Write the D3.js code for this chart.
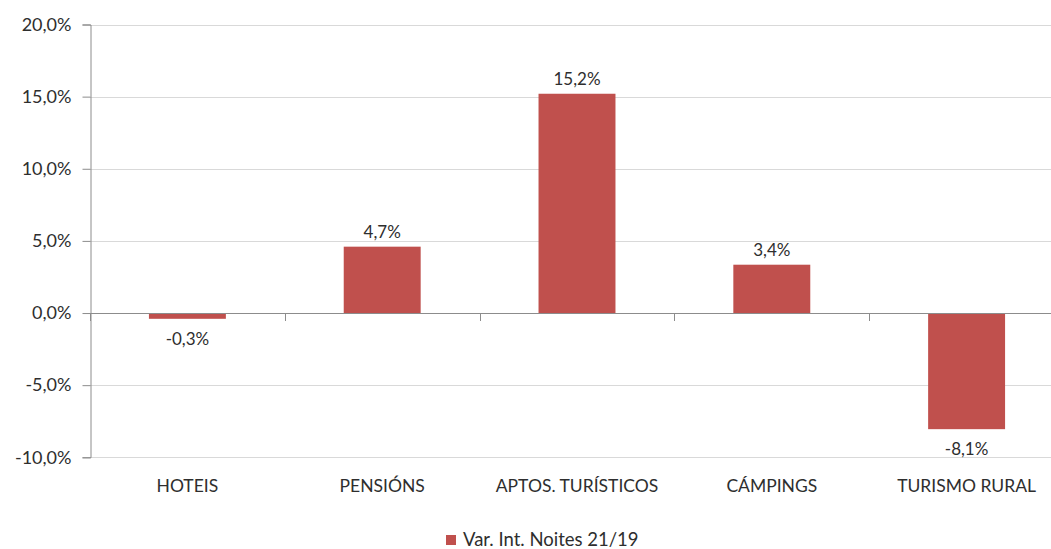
<!DOCTYPE html>
<html>
<head>
<meta charset="utf-8">
<script src="https://cdn.jsdelivr.net/npm/d3@7"></script>
<style>
  body { margin: 0; background: #fff; }
  svg text { font-family: Lato, "Open Sans", sans-serif; fill: #2e2e2e; }
</style>
</head>
<body>
<script>
var categories = ["HOTEIS", "PENSIÓNS", "APTOS. TURÍSTICOS", "CÁMPINGS", "TURISMO RURAL"];
var values = [-0.4, 4.6, 15.2, 3.35, -8.05];
var labels = ["-0,3%", "4,7%", "15,2%", "3,4%", "-8,1%"];
var yTicks = [-10, -5, 0, 5, 10, 15, 20];
var seriesName = "Var. Int. Noites 21/19";

var width = 1051, height = 549;
var plotLeft = 90, plotTop = 24.5, plotBottom = 457.3, plotRight = 1064;

var svg = d3.select("body").append("svg")
  .attr("width", width)
  .attr("height", height);

var x = d3.scaleBand()
  .domain(categories)
  .range([plotLeft, plotRight])
  .paddingInner(0.605)
  .paddingOuter(0.3025);

var y = d3.scaleLinear()
  .domain([-10, 20])
  .range([plotBottom, plotTop]);

function pct(v) { return v.toFixed(1).replace(".", ",") + "%"; }

// gridlines
svg.append("g")
  .selectAll("line")
  .data(yTicks)
  .enter()
  .append("line")
  .attr("x1", plotLeft)
  .attr("x2", width)
  .attr("y1", function(d) { return Math.round(y(d)) + 0.5; })
  .attr("y2", function(d) { return Math.round(y(d)) + 0.5; })
  .attr("stroke", "#d9d9d9")
  .attr("stroke-width", 1);

// y axis
var yAxis = svg.append("g")
  .attr("transform", "translate(" + (plotLeft + 0.5) + ",0)")
  .call(d3.axisLeft(y).tickValues(yTicks).tickFormat(pct).tickSize(8).tickPadding(11));
yAxis.select(".domain").attr("stroke", "#8c8c8c");
yAxis.selectAll(".tick line").attr("stroke", "#8c8c8c");
yAxis.selectAll(".tick text")
  .style("font-size", "18px")
  .style("font-family", "Lato, sans-serif")
  .attr("fill", "#2e2e2e");

// bars
svg.append("g")
  .selectAll("rect")
  .data(values)
  .enter()
  .append("rect")
  .attr("x", function(d, i) { return x(categories[i]); })
  .attr("width", x.bandwidth())
  .attr("y", function(d) { return y(Math.max(0, d)); })
  .attr("height", function(d) { return Math.abs(y(d) - y(0)); })
  .attr("fill", "#c0504d");

// x axis at zero
var step = x.step();
var boundaries = d3.range(categories.length + 1).map(function(i) { return plotLeft + i * step; });
var xg = svg.append("g");
xg.append("line")
  .attr("x1", plotLeft)
  .attr("x2", width)
  .attr("y1", Math.round(y(0)) + 0.5)
  .attr("y2", Math.round(y(0)) + 0.5)
  .attr("stroke", "#8c8c8c");
xg.selectAll("line.tk")
  .data(boundaries)
  .enter()
  .append("line")
  .attr("class", "tk")
  .attr("x1", function(d) { return Math.round(d) + 0.5; })
  .attr("x2", function(d) { return Math.round(d) + 0.5; })
  .attr("y1", Math.round(y(0)))
  .attr("y2", Math.round(y(0)) + 8)
  .attr("stroke", "#8c8c8c");

// category labels
svg.append("g")
  .selectAll("text")
  .data(categories)
  .enter()
  .append("text")
  .attr("x", function(d) { return x(d) + x.bandwidth() / 2; })
  .attr("y", 492)
  .attr("text-anchor", "middle")
  .style("font-size", "17.5px")
  .text(function(d) { return d; });

// data labels
svg.append("g")
  .selectAll("text")
  .data(values)
  .enter()
  .append("text")
  .attr("x", function(d, i) { return x(categories[i]) + x.bandwidth() / 2; })
  .attr("y", function(d) { return d >= 0 ? y(d) - 9 : y(d) + 26; })
  .attr("text-anchor", "middle")
  .style("font-size", "17px")
  .text(function(d, i) { return labels[i]; });

// legend
var lg = svg.append("g");
lg.append("rect")
  .attr("x", 446)
  .attr("y", 535)
  .attr("width", 10)
  .attr("height", 10)
  .attr("fill", "#c0504d");
lg.append("text")
  .attr("x", 463)
  .attr("y", 546)
  .style("font-size", "18.5px")
  .text(seriesName);
</script>
</body>
</html>
